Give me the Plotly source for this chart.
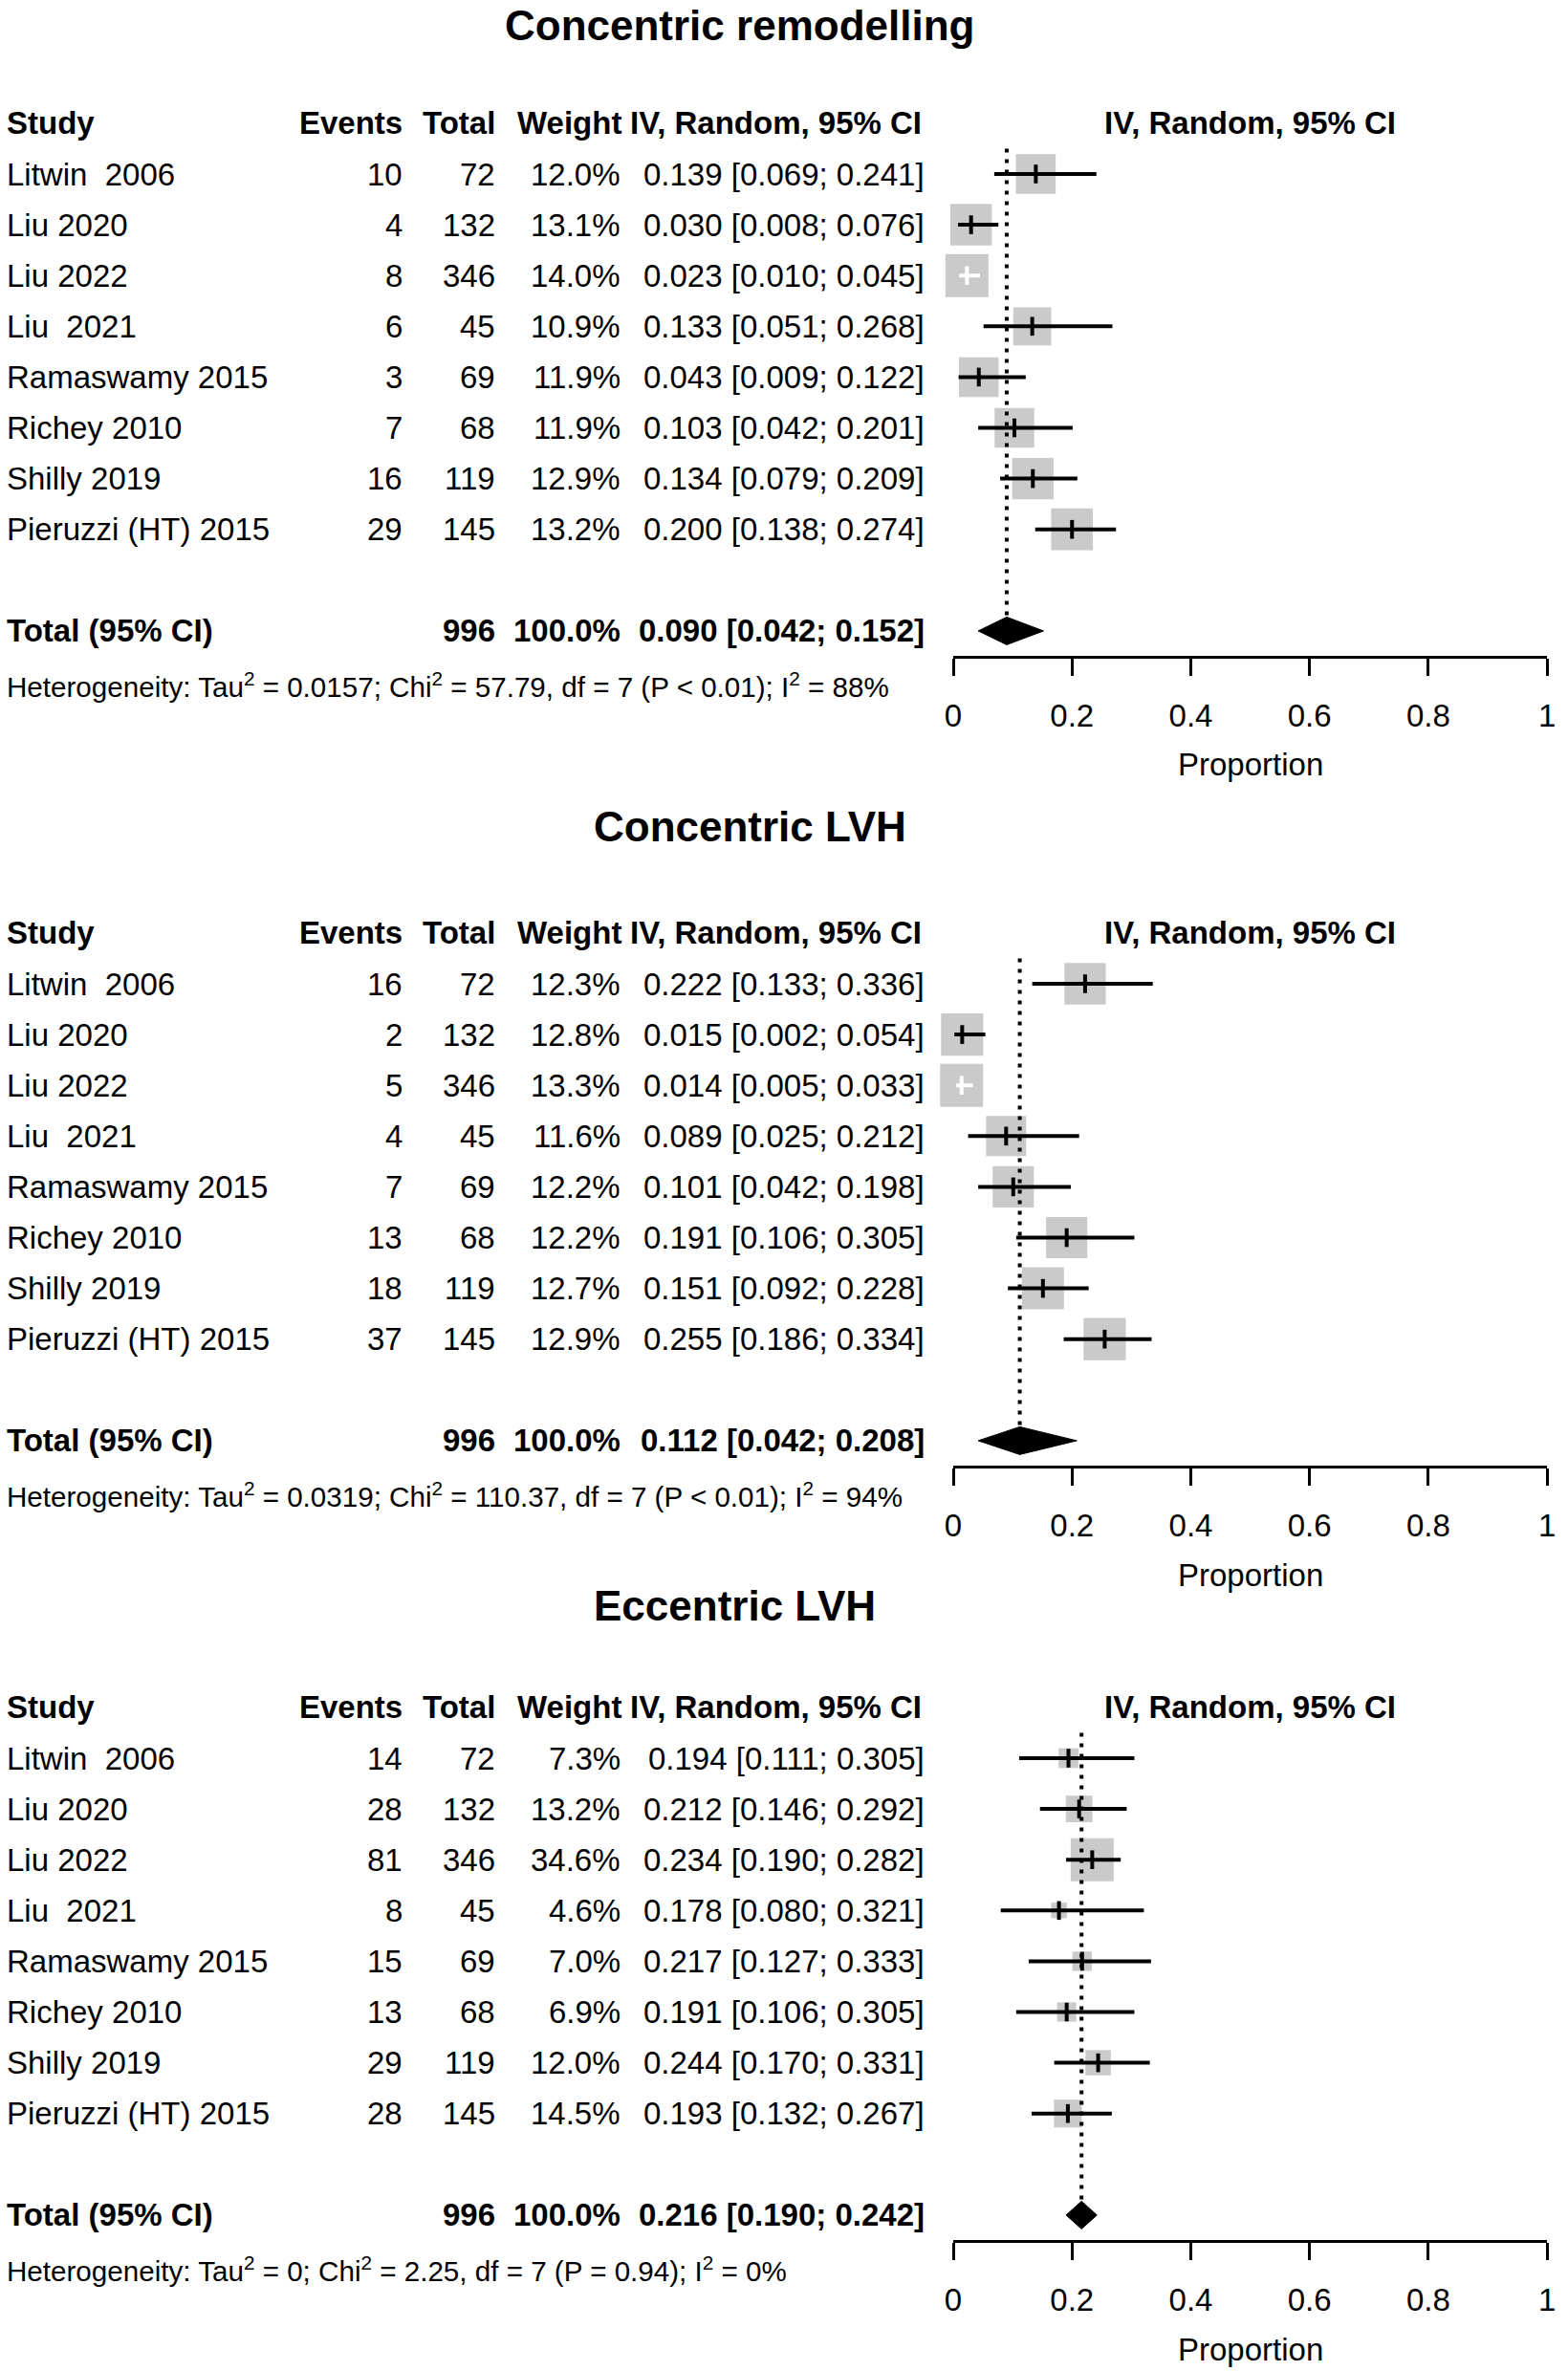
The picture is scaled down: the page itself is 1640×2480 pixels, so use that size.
import plotly.graph_objects as go
import math

# ---------------- data ----------------
studies = ["Litwin \u00a02006", "Liu 2020", "Liu 2022", "Liu \u00a02021", "Ramaswamy 2015",
           "Richey 2010", "Shilly 2019", "Pieruzzi (HT) 2015"]
totals = [72, 132, 346, 45, 69, 68, 119, 145]

panel_titles = ["Concentric remodelling", "Concentric LVH", "Eccentric LVH"]

cr_events = [10, 4, 8, 6, 3, 7, 16, 29]
cr_weights = [12.0, 13.1, 14.0, 10.9, 11.9, 11.9, 12.9, 13.2]
cr_est = [0.139, 0.030, 0.023, 0.133, 0.043, 0.103, 0.134, 0.200]
cr_lo = [0.069, 0.008, 0.010, 0.051, 0.009, 0.042, 0.079, 0.138]
cr_hi = [0.241, 0.076, 0.045, 0.268, 0.122, 0.201, 0.209, 0.274]
cr_pooled = [0.090, 0.042, 0.152]
cr_het = ["0.0157", "57.79", "P < 0.01", "88%"]

cl_events = [16, 2, 5, 4, 7, 13, 18, 37]
cl_weights = [12.3, 12.8, 13.3, 11.6, 12.2, 12.2, 12.7, 12.9]
cl_est = [0.222, 0.015, 0.014, 0.089, 0.101, 0.191, 0.151, 0.255]
cl_lo = [0.133, 0.002, 0.005, 0.025, 0.042, 0.106, 0.092, 0.186]
cl_hi = [0.336, 0.054, 0.033, 0.212, 0.198, 0.305, 0.228, 0.334]
cl_pooled = [0.112, 0.042, 0.208]
cl_het = ["0.0319", "110.37", "P < 0.01", "94%"]

el_events = [14, 28, 81, 8, 15, 13, 29, 28]
el_weights = [7.3, 13.2, 34.6, 4.6, 7.0, 6.9, 12.0, 14.5]
el_est = [0.194, 0.212, 0.234, 0.178, 0.217, 0.191, 0.244, 0.193]
el_lo = [0.111, 0.146, 0.190, 0.080, 0.127, 0.106, 0.170, 0.132]
el_hi = [0.305, 0.292, 0.282, 0.321, 0.333, 0.305, 0.331, 0.267]
el_pooled = [0.216, 0.190, 0.242]
el_het = ["0", "2.25", "P = 0.94", "0%"]

tick_vals = [0, 0.2, 0.4, 0.6, 0.8, 1]
tick_text = ["0", "0.2", "0.4", "0.6", "0.8", "1"]

panels = [
    (cr_events, cr_weights, cr_est, cr_lo, cr_hi, cr_pooled, cr_het),
    (cl_events, cl_weights, cl_est, cl_lo, cl_hi, cl_pooled, cl_het),
    (el_events, el_weights, el_est, el_lo, el_hi, el_pooled, el_het),
]

# ---------------- layout geometry (pixels) ----------------
W, H = 1640, 2480
AX0, AX1 = 999, 1627          # x pixel of 0 and 1
ROW0, STEP = 182, 53.1        # pixel of row 1 and row step
OFFSETS = [0, 847, 1657]
TITLE_Y = [27, 864, 1680]
TITLE_X = [773, 784, 768]
YMAX = 10.5
FONT = "Liberation Sans, Arial, sans-serif"
BODY = 33
GREY = "#b3b3b3"
MAXBOX = 45

def px(x):
    return x / W

def py(y):
    return 1 - y / H

def row_px(r, off):
    return ROW0 + (r - 1) * STEP + off

fig = go.Figure()
annotations = []
layout_axes = {}

def txt(x, y, s, anchor="left", size=BODY, yref="paper", xref="paper"):
    annotations.append(dict(
        x=x, y=y, xref=xref, yref=yref, text=s, showarrow=False,
        xanchor=anchor, yanchor="middle",
        font=dict(family=FONT, size=size, color="black")))

for k, (events, weights, est, lo, hi, pooled, het) in enumerate(panels):
    off = OFFSETS[k]
    xa = "x" if k == 0 else f"x{k+1}"
    ya = "y" if k == 0 else f"y{k+1}"
    top_px = row_px(0, off)
    bot_px = row_px(YMAX, off)
    layout_axes["xaxis" if k == 0 else f"xaxis{k+1}"] = dict(
        domain=[px(AX0), px(AX1)], range=[0, 1], anchor=ya,
        showline=True, linecolor="black", linewidth=3,
        ticks="outside", ticklen=18, tickwidth=3, tickcolor="black",
        tickvals=tick_vals, ticktext=tick_text,
        tickfont=dict(family=FONT, size=33, color="black"),
        ticklabelstandoff=13,
        showgrid=False, zeroline=False, fixedrange=True,
    )
    layout_axes["yaxis" if k == 0 else f"yaxis{k+1}"] = dict(
        domain=[py(bot_px), py(top_px)], range=[YMAX, 0],
        visible=False, anchor=xa, fixedrange=True,
    )

    rows = list(range(1, len(studies) + 1))
    unit_px = AX1 - AX0
    wmax = max(weights)
    sizes = [MAXBOX * math.sqrt(w / wmax) for w in weights]

    # squares
    fig.add_trace(go.Scatter(
        x=est, y=rows, mode="markers", xaxis=xa, yaxis=ya, cliponaxis=False,
        marker=dict(symbol="square", size=sizes, color=GREY, line=dict(width=0)),
        hoverinfo="skip"))

    # dotted pooled line
    dh = 14.5 / STEP
    total_row = 10
    fig.add_trace(go.Scatter(
        x=[pooled[0], pooled[0]], y=[0.5, total_row - dh], mode="lines",
        xaxis=xa, yaxis=ya, line=dict(color="black", width=4, dash="4px,7px"),
        hoverinfo="skip"))

    # CI lines (white if entirely inside the box)
    colors = []
    for e, l, h, s in zip(est, lo, hi, sizes):
        half = s / 2 / unit_px
        colors.append("white" if (l > e - half and h < e + half) else "black")
    for col in ["black", "white"]:
        xs, ys = [], []
        for r, l, h, c in zip(rows, lo, hi, colors):
            if c == col:
                xs += [l, h, None]
                ys += [r, r, None]
        if xs:
            fig.add_trace(go.Scatter(
                x=xs, y=ys, mode="lines", xaxis=xa, yaxis=ya,
                line=dict(color=col, width=4), hoverinfo="skip"))
    fig.add_trace(go.Scatter(
        x=est, y=rows, mode="markers", xaxis=xa, yaxis=ya, cliponaxis=False,
        marker=dict(symbol="line-ns", size=14, line=dict(width=4, color=colors)),
        hoverinfo="skip"))

    # diamond
    fig.add_trace(go.Scatter(
        x=[pooled[1], pooled[0], pooled[2], pooled[0], pooled[1]],
        y=[total_row, total_row - dh, total_row, total_row + dh, total_row],
        mode="lines", fill="toself", fillcolor="black",
        line=dict(color="black", width=1), xaxis=xa, yaxis=ya, hoverinfo="skip"))

    # ---- text ----
    txt(px(TITLE_X[k]), py(TITLE_Y[k]), f"<b>{panel_titles[k]}</b>", "center", size=44)

    # header row
    LX = px(-4)
    txt(LX, 0, "<b>Study</b>", yref=ya)
    txt(px(419), 0, "<b>Events</b>", "right", yref=ya)
    txt(px(517), 0, "<b>Total</b>", "right", yref=ya)
    txt(px(650), 0, "<b>Weight</b>", "right", yref=ya)
    txt(px(968), 0, "<b>IV, Random, 95% CI</b>", "right", yref=ya)
    txt(0.5, 0, "<b>IV, Random, 95% CI</b>", "center", xref=xa, yref=ya)

    for r, name, ev, tot, w, e, l, h in zip(rows, studies, events, totals, weights, est, lo, hi):
        txt(LX, r, name, yref=ya)
        txt(px(419), r, f"{ev}", "right", yref=ya)
        txt(px(517), r, f"{tot}", "right", yref=ya)
        txt(px(649), r, f"{w:.1f}%", "right", yref=ya)
        txt(px(971), r, f"{e:.3f} [{l:.3f}; {h:.3f}]", "right", yref=ya)

    txt(LX, total_row, "<b>Total (95% CI)</b>", yref=ya)
    txt(px(517), total_row, f"<b>{sum(totals)}</b>", "right", yref=ya)
    txt(px(649), total_row, "<b>100.0%</b>", "right", yref=ya)
    txt(px(971), total_row,
        f"<b>{pooled[0]:.3f} [{pooled[1]:.3f}; {pooled[2]:.3f}]</b>", "right", yref=ya)

    het_s = (f"Heterogeneity: Tau<sup>2</sup> = {het[0]}; Chi<sup>2</sup> = {het[1]}, "
             f"df = {len(studies) - 1} ({het[2]}); I<sup>2</sup> = {het[3]}")
    txt(LX, py(716 + off), het_s, size=29.6)

    # axis title
    txt(0.5, py(800 + off), "Proportion", "center", xref=xa)

fig.update_layout(
    width=W, height=H, margin=dict(l=0, r=0, t=0, b=0),
    paper_bgcolor="white", plot_bgcolor="rgba(0,0,0,0)",
    showlegend=False, annotations=annotations, **layout_axes)

fig.write_html("out.html", config={"displayModeBar": False},
               post_script="document.body.style.margin='0px';")
